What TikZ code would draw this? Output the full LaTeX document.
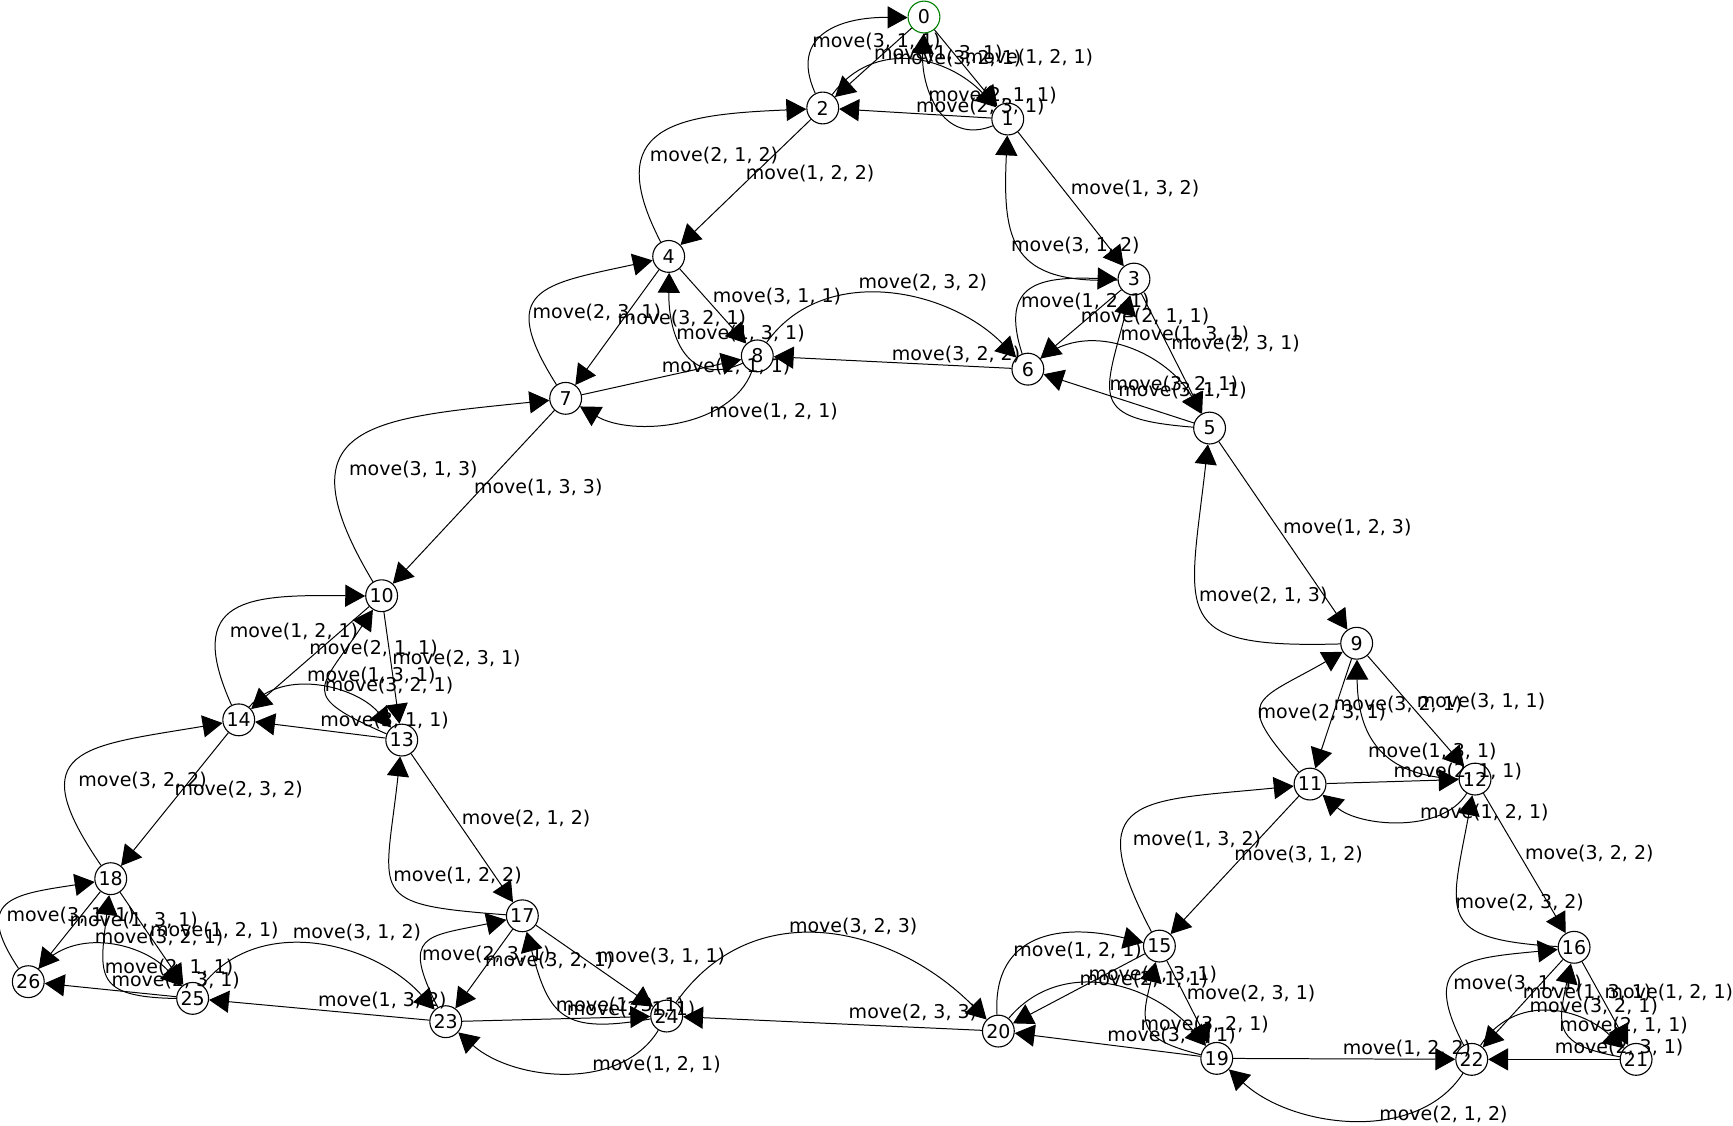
\documentclass[tikz,border=0pt]{standalone}
\usepackage{fontspec}
\setmainfont{DejaVu Sans}
\usetikzlibrary{arrows.meta}
\begin{document}
\begin{tikzpicture}[x=0.5pt,y=-0.5pt,
  st/.style={circle,draw=black,fill=white,line width=0.5pt,minimum size=14.4pt,inner sep=0pt,font=\fontsize{8.6}{10}\selectfont},
  st0/.style={st,draw=green!50!black},
  lbl/.style={font=\fontsize{8.6}{10}\selectfont,inner sep=0pt},
  ed/.style={line width=0.45pt,-{Triangle[length=9pt,width=10pt]}},
  cv/.style={ed,out=58,in=138,relative,looseness=#1},
  cv/.default=1.0,
  cc/.style 2 args={ed,out=#1,in=140,relative,looseness=#2}]
\fill[white] (0,0) rectangle (1568,1018);
\useasboundingbox (0,0) rectangle (1568,1018);
% states
\node[st0] (n0) at (836,15.4) {0};
\node[st] (n1) at (911.8,107.7) {1};
\node[st] (n2) at (744.4,97.7) {2};
\node[st] (n3) at (1026,252.5) {3};
\node[st] (n4) at (605,232) {4};
\node[st] (n5) at (1094.4,387.3) {5};
\node[st] (n6) at (930,334) {6};
\node[st] (n7) at (511.8,360.4) {7};
\node[st] (n8) at (685.2,322) {8};
\node[st] (n9) at (1227.5,582) {9};
\node[st] (n10) at (345.3,539) {10};
\node[st] (n11) at (1185.3,709.4) {11};
\node[st] (n12) at (1334.6,704.9) {12};
\node[st] (n13) at (363.5,669.6) {13};
\node[st] (n14) at (216,651.3) {14};
\node[st] (n15) at (1049,856) {15};
\node[st] (n16) at (1424.2,857.1) {16};
\node[st] (n17) at (472.6,828.6) {17};
\node[st] (n18) at (100.2,795) {18};
\node[st] (n19) at (1100.9,957.6) {19};
\node[st] (n20) at (903.3,932.9) {20};
\node[st] (n21) at (1480.3,958.5) {21};
\node[st] (n22) at (1331.6,958.5) {22};
\node[st] (n23) at (403.3,924.4) {23};
\node[st] (n24) at (603.2,919.3) {24};
\node[st] (n25) at (174.3,903.3) {25};
\node[st] (n26) at (25.6,888.2) {26};
% top triangle
\draw[ed] (n0) -- (n1) node[lbl,at={(931,52)}] {move(1, 2, 1)};
\draw[cc={75}{1.2}] (n1) to (n0) node[lbl,at={(898,86)}] {move(2, 1, 1)};
\draw[ed] (n0) -- (n2) node[lbl,at={(849,48)}] {move(1, 3, 1)};
\draw[cc={75}{1.4}] (n2) to (n0) node[lbl,at={(793,38)}] {move(3, 1, 1)};
\draw[ed] (n1) -- (n2) node[lbl,at={(887,96)}] {move(2, 3, 1)};
\draw[cv=1.1] (n2) to (n1) node[lbl,at={(866,53)}] {move(3, 2, 1)};
\draw[ed] (n1) -- (n3) node[lbl,at={(1027,171)}] {move(1, 3, 2)};
\draw[cc={55}{1.5}] (n3) to (n1) node[lbl,at={(973,222)}] {move(3, 1, 2)};
\draw[ed] (n2) -- (n4) node[lbl,at={(733,157)}] {move(1, 2, 2)};
\draw[cc={75}{1.7}] (n4) to (n2) node[lbl,at={(646,141)}] {move(2, 1, 2)};
% 3 5 6
\draw[ed] (n3) -- (n5) node[lbl,at={(1118,311)}] {move(2, 3, 1)};
\draw[cc={60}{1.85}] (n5) to (n3) node[lbl,at={(1062,348)}] {move(3, 2, 1)};
\draw[ed] (n3) -- (n6) node[lbl,at={(1036,286)}] {move(2, 1, 1)};
\draw[cc={70}{1.6}] (n6) to (n3) node[lbl,at={(982,273)}] {move(1, 2, 1)};
\draw[ed] (n5) -- (n6) node[lbl,at={(1070,353)}] {move(3, 1, 1)};
\draw[cv=1.0] (n6) to (n5) node[lbl,at={(1072,303)}] {move(1, 3, 1)};
\draw[ed] (n6) -- (n8) node[lbl,at={(865,321)}] {move(3, 2, 2)};
\draw[cv=1.0] (n8) to (n6) node[lbl,at={(835,256)}] {move(2, 3, 2)};
% 4 7 8
\draw[ed] (n4) -- (n7) node[lbl,at={(617,288)}] {move(3, 2, 1)};
\draw[cc={70}{1.85}] (n7) to (n4) node[lbl,at={(540,283)}] {move(2, 3, 1)};
\draw[ed] (n4) -- (n8) node[lbl,at={(703,268)}] {move(3, 1, 1)};
\draw[cc={75}{1.35}] (n8) to (n4) node[lbl,at={(670,302)}] {move(1, 3, 1)};
\draw[ed] (n7) -- (n8) node[lbl,at={(657,332)}] {move(2, 1, 1)};
\draw[cv=0.88] (n8) to (n7) node[lbl,at={(700,372)}] {move(1, 2, 1)};
\draw[ed] (n7) -- (n10) node[lbl,at={(487,441)}] {move(1, 3, 3)};
\draw[cc={75}{1.85}] (n10) to (n7) node[lbl,at={(374,425)}] {move(3, 1, 3)};
\draw[ed] (n5) -- (n9) node[lbl,at={(1219,477)}] {move(1, 2, 3)};
\draw[cc={58}{1.85}] (n9) to (n5) node[lbl,at={(1143,539)}] {move(2, 1, 3)};
% 10 13 14
\draw[ed] (n10) -- (n13) node[lbl,at={(413,596)}] {move(2, 3, 1)};
\draw[cc={60}{2.0}] (n13) to (n10) node[lbl,at={(352,620)}] {move(3, 2, 1)};
\draw[ed] (n10) -- (n14) node[lbl,at={(338,587)}] {move(2, 1, 1)};
\draw[cc={75}{1.75}] (n14) to (n10) node[lbl,at={(266,571)}] {move(1, 2, 1)};
\draw[ed] (n13) -- (n14) node[lbl,at={(348,652)}] {move(3, 1, 1)};
\draw[cv=0.95] (n14) to (n13) node[lbl,at={(336,611)}] {move(1, 3, 1)};
\draw[ed] (n13) -- (n17) node[lbl,at={(476,741)}] {move(2, 1, 2)};
\draw[cc={52}{1.9}] (n17) to (n13) node[lbl,at={(414,792)}] {move(1, 2, 2)};
\draw[ed] (n14) -- (n18) node[lbl,at={(216,714)}] {move(2, 3, 2)};
\draw[cc={75}{1.95}] (n18) to (n14) node[lbl,at={(129,706)}] {move(3, 2, 2)};
% 17 23 24
\draw[ed] (n17) -- (n23) node[lbl,at={(497,869)}] {move(3, 2, 1)};
\draw[cc={65}{1.9}] (n23) to (n17) node[lbl,at={(440,864)}] {move(2, 3, 1)};
\draw[ed] (n17) -- (n24) node[lbl,at={(598,865)}] {move(3, 1, 1)};
\draw[cc={45}{1.5}] (n24) to (n17) node[lbl,at={(561,910)}] {move(1, 3, 1)};
\draw[ed] (n23) -- (n24) node[lbl,at={(571,913)}] {move(2, 1, 1)};
\draw[cv=0.93] (n24) to (n23) node[lbl,at={(594,963)}] {move(1, 2, 1)};
\draw[ed] (n20) -- (n24) node[lbl,at={(826,916)}] {move(2, 3, 3)};
\draw[cv=1.1] (n24) to (n20) node[lbl,at={(772,838)}] {move(3, 2, 3)};
\draw[ed] (n23) -- (n25) node[lbl,at={(346,905)}] {move(1, 3, 2)};
\draw[cv=1.0] (n25) to (n23) node[lbl,at={(323,844)}] {move(3, 1, 2)};
% 18 25 26
\draw[ed] (n18) -- (n25) node[lbl,at={(194,842)}] {move(1, 2, 1)};
\draw[cc={56}{1.7}] (n25) to (n18) node[lbl,at={(153,875)}] {move(2, 1, 1)};
\draw[ed] (n18) -- (n26) node[lbl,at={(121,833)}] {move(1, 3, 1)};
\draw[cc={75}{1.85}] (n26) to (n18) node[lbl,at={(64,828)}] {move(3, 1, 1)};
\draw[ed] (n25) -- (n26) node[lbl,at={(159,887)}] {move(2, 3, 1)};
\draw[cv=1.0] (n26) to (n25) node[lbl,at={(144,848)}] {move(3, 2, 1)};
% 9 11 12
\draw[ed] (n9) -- (n11) node[lbl,at={(1265,637)}] {move(3, 2, 1)};
\draw[cc={62}{2.0}] (n11) to (n9) node[lbl,at={(1196,645)}] {move(2, 3, 1)};
\draw[ed] (n9) -- (n12) node[lbl,at={(1340,635)}] {move(3, 1, 1)};
\draw[cc={48}{1.25}] (n12) to (n9) node[lbl,at={(1296,680)}] {move(1, 3, 1)};
\draw[ed] (n11) -- (n12) node[lbl,at={(1319,698)}] {move(2, 1, 1)};
\draw[cv=0.85] (n12) to (n11) node[lbl,at={(1343,735)}] {move(1, 2, 1)};
\draw[ed] (n11) -- (n15) node[lbl,at={(1175,773)}] {move(3, 1, 2)};
\draw[cc={72}{1.95}] (n15) to (n11) node[lbl,at={(1083,760)}] {move(1, 3, 2)};
\draw[ed] (n12) -- (n16) node[lbl,at={(1438,772)}] {move(3, 2, 2)};
\draw[cc={57}{1.8}] (n16) to (n12) node[lbl,at={(1375,817)}] {move(2, 3, 2)};
% 15 19 20
\draw[ed] (n15) -- (n19) node[lbl,at={(1132,899)}] {move(2, 3, 1)};
\draw[cc={50}{1.6}] (n19) to (n15) node[lbl,at={(1090,927)}] {move(3, 2, 1)};
\draw[ed] (n15) -- (n20) node[lbl,at={(1035,886)}] {move(2, 1, 1)};
\draw[cc={67}{1.3}] (n20) to (n15) node[lbl,at={(975,860)}] {move(1, 2, 1)};
\draw[ed] (n19) -- (n20) node[lbl,at={(1060,937)}] {move(3, 1, 1)};
\draw[cv=1.05] (n20) to (n19) node[lbl,at={(1043,882)}] {move(1, 3, 1)};
\draw[ed] (n19) -- (n22) node[lbl,at={(1273,949)}] {move(1, 2, 2)};
\draw[cv=0.93] (n22) to (n19) node[lbl,at={(1306,1008)}] {move(2, 1, 2)};
% 16 21 22
\draw[ed] (n16) -- (n21) node[lbl,at={(1510,898)}] {move(1, 2, 1)};
\draw[cc={52}{1.6}] (n21) to (n16) node[lbl,at={(1469,928)}] {move(2, 1, 1)};
\draw[ed] (n16) -- (n22) node[lbl,at={(1436,898)}] {move(1, 3, 1)};
\draw[cc={72}{1.8}] (n22) to (n16) node[lbl,at={(1373,890)}] {move(3, 1, 1)};
\draw[ed] (n21) -- (n22) node[lbl,at={(1465,948)}] {move(2, 3, 1)};
\draw[cv=1.1] (n22) to (n21) node[lbl,at={(1442,911)}] {move(3, 2, 1)};
\end{tikzpicture}
\end{document}
